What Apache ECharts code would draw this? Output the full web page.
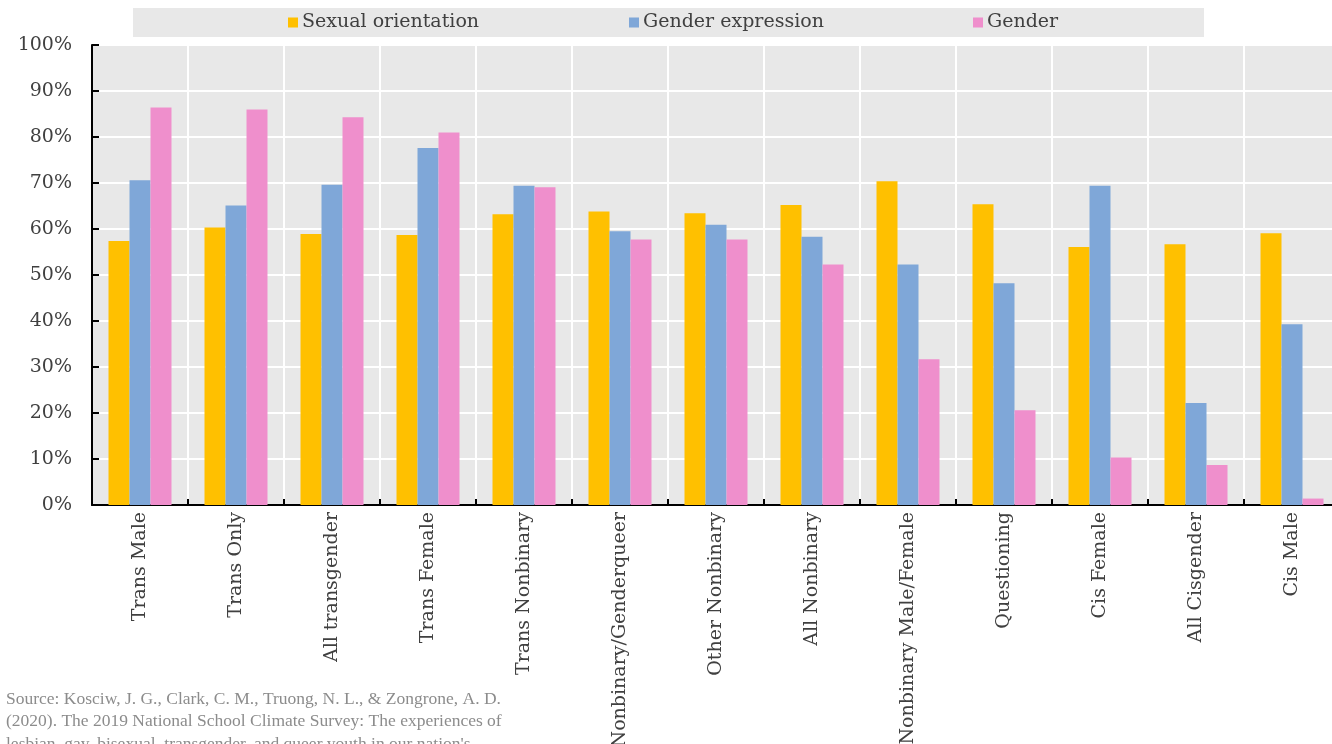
<!DOCTYPE html>
<html>
<head>
<meta charset="utf-8">
<script src="https://cdn.jsdelivr.net/npm/echarts@6/dist/echarts.min.js"></script>
<style>
  html, body { margin: 0; padding: 0; background: #fff; }
  #chart { width: 1332px; height: 744px; }
</style>
</head>
<body>
<div id="chart"></div>
<script>
const categories = ['Trans Male', 'Trans Only', 'All transgender', 'Trans Female', 'Trans Nonbinary',
  'Nonbinary/Genderqueer', 'Other Nonbinary', 'All Nonbinary', 'Nonbinary Male/Female',
  'Questioning', 'Cis Female', 'All Cisgender', 'Cis Male'];

const sexualOrientation = [57.4, 60.3, 58.9, 58.7, 63.2, 63.8, 63.4, 65.2, 70.4, 65.4, 56.1, 56.7, 59.1];
const genderExpression  = [70.6, 65.1, 69.6, 77.6, 69.4, 59.5, 60.9, 58.3, 52.3, 48.2, 69.4, 22.2, 39.3];
const gender            = [86.4, 86.0, 84.3, 81.0, 69.1, 57.7, 57.7, 52.3, 31.7, 20.6, 10.3, 8.7, 1.4];

const seriesNames = ['Sexual orientation', 'Gender expression', 'Gender'];
const colors = ['#FFC000', '#7FA7D8', '#EF8FCC'];

const sourceLines = [
  'Source: Kosciw, J. G., Clark, C. M., Truong, N. L., & Zongrone, A. D.',
  '(2020). The 2019 National School Climate Survey: The experiences of',
  "lesbian, gay, bisexual, transgender, and queer youth in our nation's"
];

const serif = 'Georgia, "DejaVu Serif", serif';
const textColor = '#404040';

const chart = echarts.init(document.getElementById('chart'));

// one legend per series, Excel spaces them unevenly
const legendX = [288, 629, 973];
const legends = seriesNames.map((name, i) => ({
  data: [name],
  left: legendX[i],
  top: 13,
  icon: 'rect',
  itemWidth: 10,
  itemHeight: 10,
  itemGap: 5,
  padding: 0,
  selectedMode: false,
  textStyle: { fontFamily: serif, fontSize: 19, color: textColor, padding: [0, 0, 0, -1] }
}));

const makeBar = (name, data, color) => ({
  name: name,
  type: 'bar',
  data: data,
  barWidth: 21,
  barGap: '0%',
  itemStyle: { color: color },
  emphasis: { disabled: true }
});

const option = {
  animation: false,
  legend: legends,
  graphic: [
    {
      type: 'rect',
      left: 133, top: 8,
      shape: { width: 1071, height: 29 },
      style: { fill: '#e8e8e8' },
      z: -1
    },
    {
      type: 'text',
      left: 6, top: 688,
      style: {
        text: sourceLines.join('\n'),
        font: '17.5px "Liberation Serif", serif',
        fill: '#8c8c8c',
        lineHeight: 22.5
      }
    }
  ],
  grid: {
    left: 92, top: 45, width: 1248, height: 460,
    show: true, backgroundColor: '#e8e8e8', borderWidth: 0,
    containLabel: false,
    outerBoundsMode: 'none'
  },
  xAxis: {
    type: 'category',
    data: categories,
    axisLine: { lineStyle: { color: '#000', width: 2 } },
    axisTick: { show: true, inside: true, length: 6, interval: 0, lineStyle: { color: '#000', width: 2 } },
    splitLine: { show: true, interval: 0, lineStyle: { color: '#fff', width: 2 } },
    axisLabel: {
      interval: 0, rotate: 90, margin: 7,
      fontFamily: serif, fontSize: 19, color: textColor
    }
  },
  yAxis: {
    type: 'value',
    min: 0, max: 100, interval: 10,
    axisLine: { show: true, lineStyle: { color: '#000', width: 2 } },
    axisTick: { show: true, inside: true, length: 7, lineStyle: { color: '#000', width: 2 } },
    splitLine: { show: true, lineStyle: { color: '#fff', width: 2 } },
    axisLabel: {
      formatter: '{value}%', margin: 20,
      fontFamily: serif, fontSize: 19, color: textColor
    }
  },
  series: [
    makeBar(seriesNames[0], sexualOrientation, colors[0]),
    makeBar(seriesNames[1], genderExpression, colors[1]),
    makeBar(seriesNames[2], gender, colors[2])
  ]
};

chart.setOption(option);
</script>
</body>
</html>
